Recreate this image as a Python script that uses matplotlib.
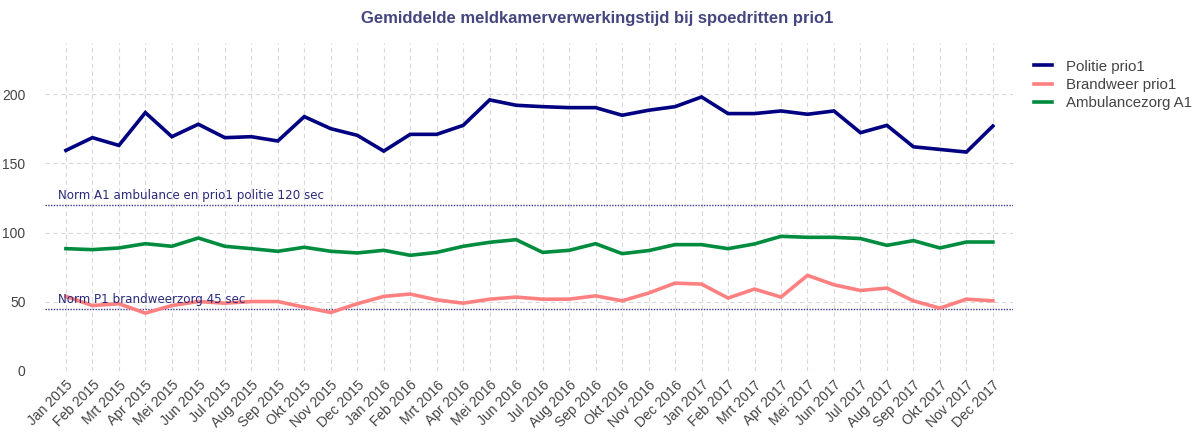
import matplotlib
matplotlib.use("Agg")
import matplotlib.pyplot as plt

months = ["Jan 2015", "Feb 2015", "Mrt 2015", "Apr 2015", "Mei 2015", "Jun 2015",
          "Jul 2015", "Aug 2015", "Sep 2015", "Okt 2015", "Nov 2015", "Dec 2015",
          "Jan 2016", "Feb 2016", "Mrt 2016", "Apr 2016", "Mei 2016", "Jun 2016",
          "Jul 2016", "Aug 2016", "Sep 2016", "Okt 2016", "Nov 2016", "Dec 2016",
          "Jan 2017", "Feb 2017", "Mrt 2017", "Apr 2017", "Mei 2017", "Jun 2017",
          "Jul 2017", "Aug 2017", "Sep 2017", "Okt 2017", "Nov 2017", "Dec 2017"]

politie = [159.4, 168.6, 163.0, 186.7, 169.3, 178.3, 168.6, 169.3, 166.2, 183.8, 175.1, 170.3,
           158.9, 171.0, 171.0, 177.5, 195.9, 192.0, 191.0, 190.3, 190.3, 184.8, 188.4, 191.0,
           198.0, 186.0, 186.0, 187.9, 185.5, 187.9, 172.2, 177.5, 162.0, 160.1, 158.2, 177.0]

brandweer = [53.9, 47.3, 48.6, 41.8, 47.3, 50.2, 49.0, 50.2, 50.2, 46.1, 42.3, 48.6,
             53.9, 55.6, 51.4, 49.0, 51.9, 53.4, 51.9, 51.9, 54.3, 50.7, 56.3, 63.5,
             62.8, 52.7, 59.2, 53.4, 69.1, 62.3, 58.2, 59.9, 50.7, 45.4, 51.9, 50.7]

ambulance = [88.4, 87.7, 88.9, 92.0, 90.1, 96.1, 90.1, 88.4, 86.5, 89.4, 86.5, 85.3,
             87.2, 83.6, 85.7, 90.1, 93.0, 94.9, 85.7, 87.2, 92.0, 84.8, 87.0, 91.3,
             91.3, 88.4, 91.8, 97.3, 96.6, 96.6, 95.7, 90.8, 94.2, 88.9, 93.2, 93.2]

series_names = ["Politie prio1", "Brandweer prio1", "Ambulancezorg A1"]
norm_values = [120, 45]
norm_labels = ["Norm A1 ambulance en prio1 politie 120 sec", "Norm P1 brandweerzorg 45 sec"]
title = "Gemiddelde meldkamerverwerkingstijd bij spoedritten prio1"
yticks = [0, 50, 100, 150, 200]

W, H = 1202, 440
fig = plt.figure(figsize=(W / 100, H / 100), dpi=100)
ax = fig.add_axes([45 / W, 1 - 371 / H, (1013 - 45) / W, (371 - 43) / H])

x = list(range(len(months)))
colors = ["#000080", "#ff8080", "#008c3f"]
for vals, name, c in zip([politie, brandweer, ambulance], series_names, colors):
    ax.plot(x, vals, color=c, lw=2.6, label=name, solid_joinstyle="miter", zorder=3)

for v, lab in zip(norm_values, norm_labels):
    ax.axhline(v, color="#3a3a8e", lw=1.0, linestyle=(0, (1, 1)), zorder=2)
    ax.text(-0.3, v + 2.2, lab, color="#2a2a7a", fontsize=8.6, family="DejaVu Sans",
            va="bottom", ha="left", zorder=4)

ax.set_xlim(-0.79, len(months) - 1 + 0.76)
ax.set_ylim(0, 237)
ax.set_yticks(yticks)
ax.set_xticks(x)
ax.set_xticklabels(months, rotation=45, ha="right", rotation_mode="anchor",
                   fontsize=10, family="Liberation Sans", color="#444444")
for lbl in ax.get_yticklabels():
    lbl.set_fontsize(10)
    lbl.set_family("Liberation Sans")
    lbl.set_color("#444444")
ax.tick_params(axis="y", length=0, pad=14)
ax.tick_params(axis="x", length=0, pad=5)
ax.grid(True, color="#d8d8d8", linestyle=(0, (4, 3)), lw=0.8, zorder=0)
ax.set_axisbelow(True)
for s in ax.spines.values():
    s.set_visible(False)

leg = fig.legend(loc="upper left", bbox_to_anchor=(1020 / W, 1 - 46 / H), frameon=False,
                 prop={"family": "Liberation Sans", "size": 10.8}, handlelength=1.2,
                 handletextpad=0.95, labelspacing=0.3, labelcolor="#444444")

fig.text(597 / W, 1 - 18 / H, title, ha="center", va="center", fontsize=12,
         fontweight="bold", family="Liberation Sans", color="#45457f")

fig.savefig("out.png", dpi=100)
